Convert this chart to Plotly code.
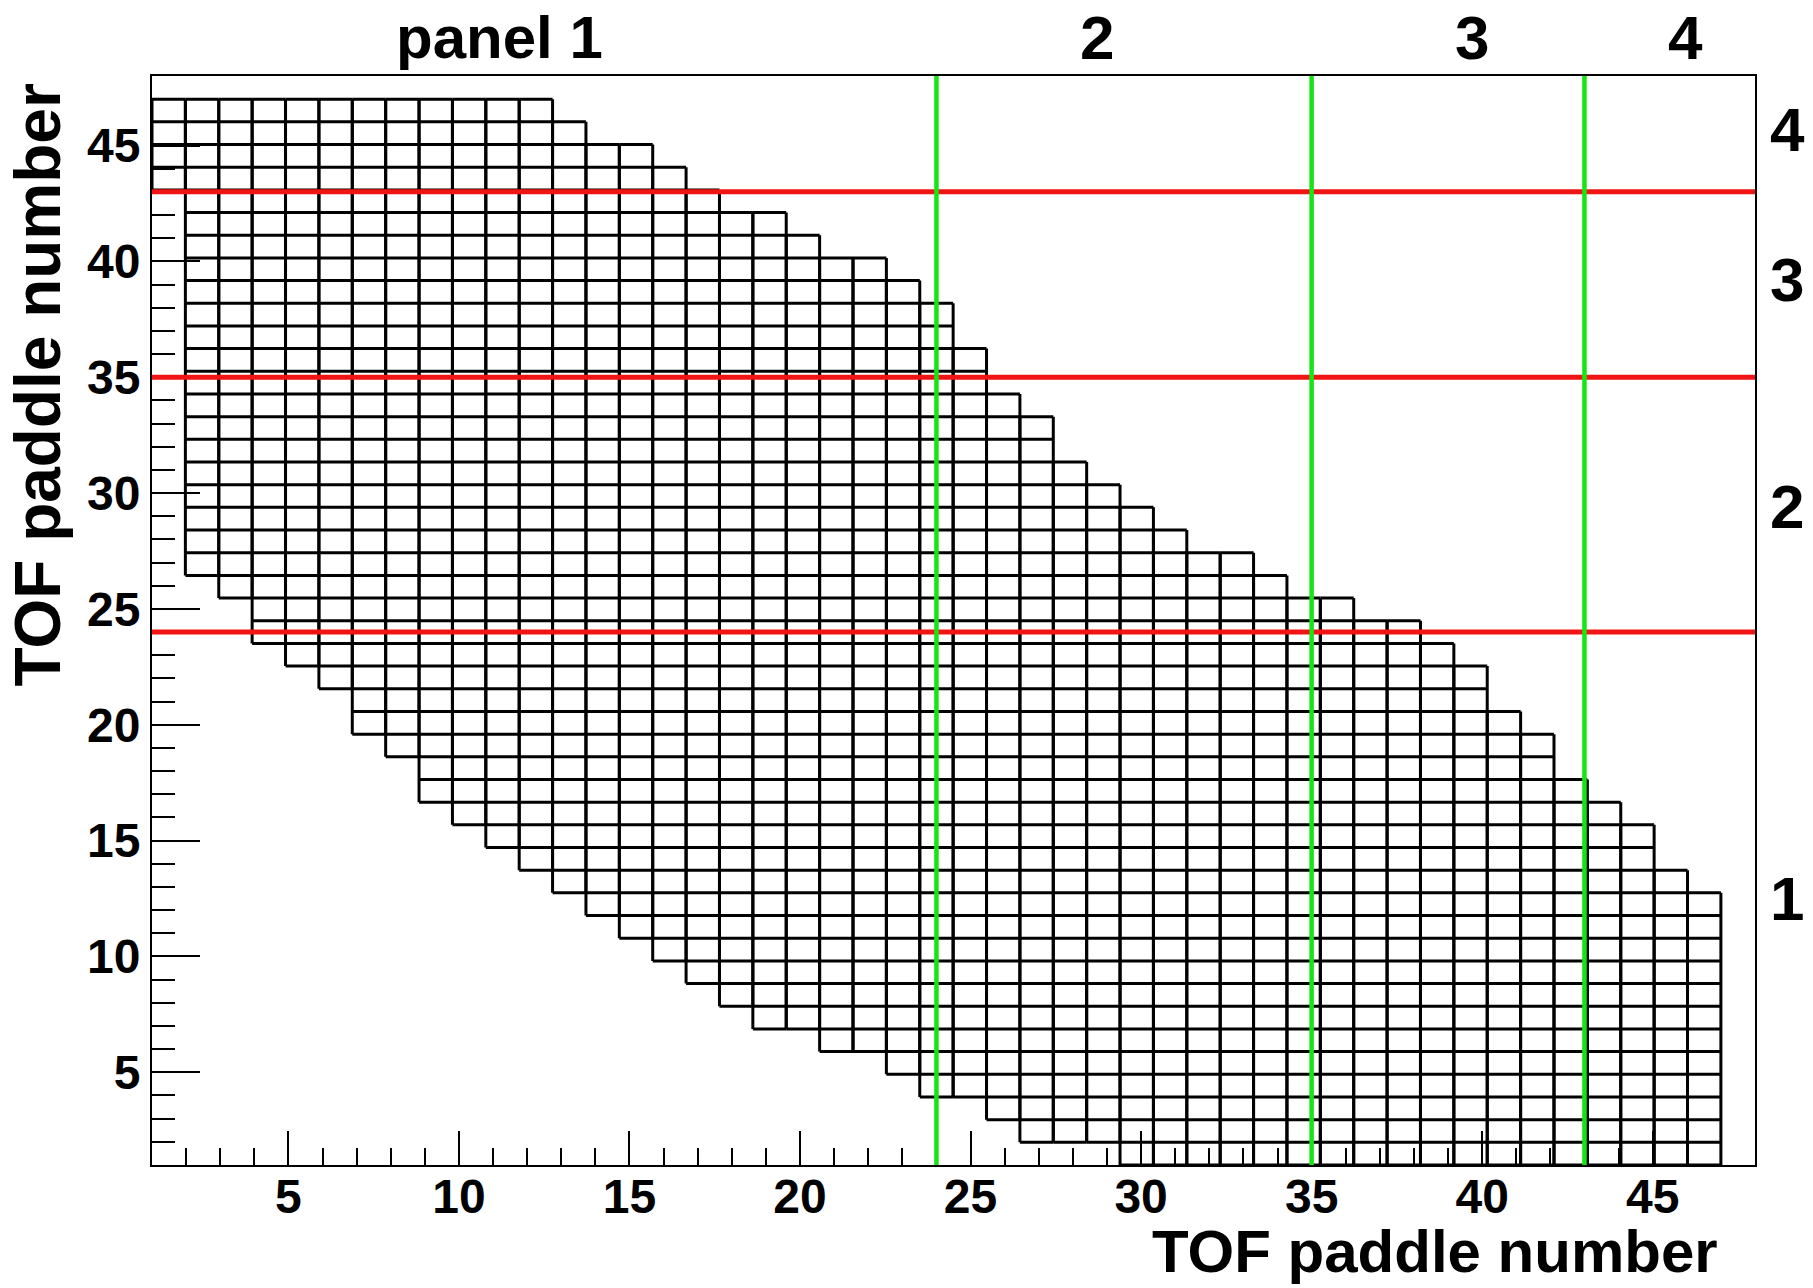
import plotly.graph_objects as go

# For every x-side TOF paddle: first and last y-side paddle that is filled
x_paddles = list(range(1, 48))
y_first = [44, 27, 26, 24, 23, 22, 20, 19, 17, 16,
           15, 14, 13, 12, 11, 10, 9, 8, 7, 7,
           6, 6, 5, 4, 4, 3, 2, 2, 2, 1,
           1, 1, 1, 1, 1, 1, 1, 1, 1, 1,
           1, 1, 1, 1, 1, 1, 1]
y_last = [47, 47, 47, 47, 47, 47, 47, 47, 47, 47,
          47, 47, 46, 45, 45, 44, 43, 42, 42, 41,
          40, 40, 39, 38, 36, 34, 33, 31, 30, 29,
          28, 27, 27, 26, 25, 25, 24, 24, 23, 22,
          20, 19, 17, 16, 15, 13, 12]

# histogram binning: 47 bins spanning paddle 1 .. 47
n_bins = 47
bin_min, bin_max = 1.0, 47.0

# panel boundaries (in paddle number)
cuts_x = [24, 35, 43]
cuts_y = [24, 35, 43]

top_labels = ["panel 1", "2", "3", "4"]
right_labels = ["4", "3", "2", "1"]

w = (bin_max - bin_min) / n_bins


def edge(i):
    return bin_min + i * w


# box outlines of all filled bins as one polyline trace
xs, ys = [], []
for p, lo, hi in zip(x_paddles, y_first, y_last):
    x0, x1 = edge(p - 1), edge(p)
    y0, y1 = edge(lo - 1), edge(hi)
    xs += [x0, x0, None, x1, x1, None]
    ys += [y0, y1, None, y0, y1, None]
    for q in range(lo - 1, hi + 1):
        yy = edge(q)
        xs += [x0, x1, None]
        ys += [yy, yy, None]

fig = go.Figure()
fig.add_trace(go.Scatter(x=xs, y=ys, mode="lines",
                         line=dict(color="black", width=3),
                         hoverinfo="skip", showlegend=False))

shapes = []
for c in cuts_y:
    shapes.append(dict(type="line", xref="x", yref="y", x0=1, x1=48, y0=c, y1=c,
                       line=dict(color="#f01414", width=5), layer="above"))
for c in cuts_x:
    shapes.append(dict(type="line", xref="x", yref="y", x0=c, x1=c, y0=1, y1=48,
                       line=dict(color="#14e614", width=4.5), layer="above"))

FONT = "Liberation Sans"
bold = dict(family=FONT, color="black", weight="bold")

annotations = []
# panel labels along the top
for txt, xpos, size in zip(top_labels, [11.2, 28.7, 39.7, 45.95], [60, 62, 62, 62]):
    annotations.append(dict(text=txt, xref="x", yref="paper", x=xpos, y=1.035,
                            xanchor="center", yanchor="middle", showarrow=False,
                            font=dict(size=size, **bold)))
# panel labels along the right side
for txt, ypos in zip(right_labels, [45.7, 39.2, 29.4, 12.5]):
    annotations.append(dict(text=txt, xref="paper", yref="y", x=1.020, y=ypos,
                            xanchor="center", yanchor="middle", showarrow=False,
                            font=dict(size=62, **bold)))
# axis titles
annotations.append(dict(text="TOF paddle number", xref="paper", yref="paper",
                        x=0.978, y=-0.079, xanchor="right", yanchor="middle",
                        showarrow=False, font=dict(size=60, **bold)))
annotations.append(dict(text="TOF paddle number", xref="paper", yref="paper",
                        x=-0.071, y=0.716, xanchor="center", yanchor="middle",
                        textangle=-90, showarrow=False, font=dict(size=64, **bold)))

axis_common = dict(showgrid=False, zeroline=False, showline=True, mirror=True,
                   linecolor="black", linewidth=2, ticks="inside",
                   tickcolor="black", tickwidth=2, tick0=0, dtick=5,
                   tickfont=dict(size=48, **bold))

fig.update_layout(
    width=1813, height=1288,
    margin=dict(l=152, r=58, t=76, b=123),
    paper_bgcolor="white", plot_bgcolor="white",
    showlegend=False,
    shapes=shapes, annotations=annotations,
    xaxis=dict(range=[1, 48], ticklen=34, ticklabelstandoff=-12,
               minor=dict(dtick=1, tick0=0, ticks="inside", ticklen=17,
                          tickcolor="black", tickwidth=2),
               **axis_common),
    yaxis=dict(range=[1, 48], ticklen=48,
               minor=dict(dtick=1, tick0=0, ticks="inside", ticklen=23,
                          tickcolor="black", tickwidth=2),
               **axis_common),
)

fig.write_html("out.html")
